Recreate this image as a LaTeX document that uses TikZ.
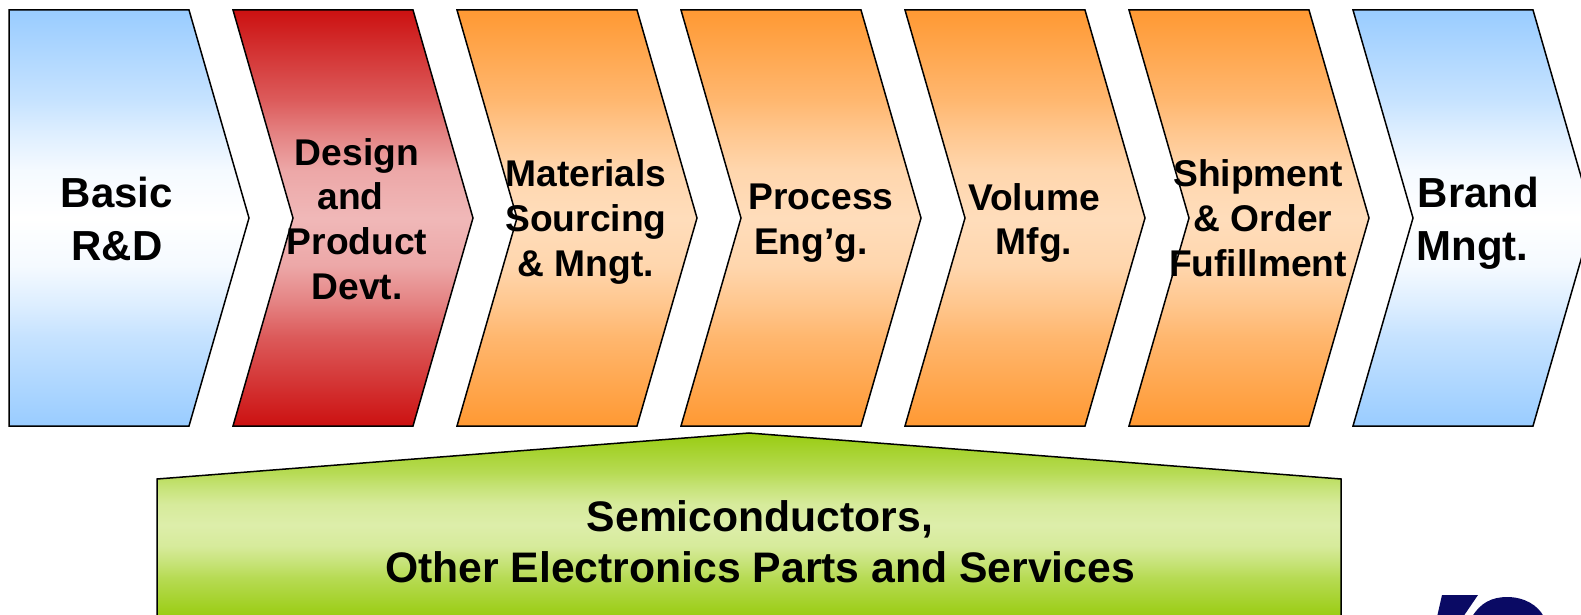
\documentclass[tikz,border=0pt]{standalone}
\usepackage{fontspec}
\setmainfont{Liberation Sans}
\definecolor{bluec}{HTML}{99CCFF}
\definecolor{bluem}{HTML}{FFFFFF}
\definecolor{redc}{HTML}{CC1111}
\definecolor{redm}{HTML}{F0B8B8}
\definecolor{orangec}{HTML}{FF9933}
\definecolor{orangem}{HTML}{FFDDBB}
\definecolor{greenc}{HTML}{99CC11}
\definecolor{greenm}{HTML}{DDEEAA}
\definecolor{logoc}{HTML}{0A0A64}
\newcommand\declband[3]{\pgfdeclareverticalshading{#1}{100bp}{%
  color(0bp)=(#2); color(25bp)=(#2);
  color(35.75bp)=(#3!44!#2); color(39.5bp)=(#3!66!#2); color(44.25bp)=(#3!90!#2);
  color(50bp)=(#3);
  color(55.75bp)=(#3!90!#2); color(60.5bp)=(#3!66!#2); color(64.25bp)=(#3!44!#2);
  color(75bp)=(#2); color(100bp)=(#2)}}
\declband{blueband}{bluec}{bluem}
\declband{redband}{redc}{redm}
\declband{orangeband}{orangec}{orangem}
\declband{greenband}{greenc}{greenm}
\tikzset{
  x=0.5pt, y=-0.5pt,
  stage/.style={draw=black, line width=0.75pt, line join=miter},
  bluefill/.style={shade, shading=blueband},
  redfill/.style={shade, shading=redband},
  orangefill/.style={shade, shading=orangeband},
  greenfill/.style={shade, shading=greenband},
  lab/.style={align=center, inner sep=0pt, font=\bfseries\fontsize{18.6}{22.4}\selectfont},
  labbig/.style={align=center, inner sep=0pt, font=\bfseries\fontsize{21}{26.7}\selectfont},
  labgreen/.style={align=center, inner sep=0pt, font=\bfseries\fontsize{21.35}{25.6}\selectfont},
}
\begin{document}
\begin{tikzpicture}
\useasboundingbox (0,0) rectangle (1581,615);
\clip (0,0) rectangle (1581,615);
% basic R&D
\path[stage,bluefill] (9,10) -- (189,10) -- (249,218) -- (189,426) -- (9,426) -- cycle;
% chevrons
\path[stage,redfill] (233,10) -- (413,10) -- (473,218) -- (413,426) -- (233,426) -- (293,218) -- cycle;
\foreach \xa in {457,681,905,1129}{
  \path[stage,orangefill] (\xa,10) -- ({\xa+180},10) -- ({\xa+240},218) -- ({\xa+180},426) -- (\xa,426) -- ({\xa+60},218) -- cycle;
}
\path[stage,bluefill] (1353,10) -- (1533,10) -- (1593,218) -- (1533,426) -- (1353,426) -- (1413,218) -- cycle;
% base
\path[stage,greenfill] (749,433) -- (1341,479) -- (1341,617) -- (157,617) -- (157,479) -- cycle;
% logo fragment
\fill[logoc] (1442,595) -- (1478,595) -- (1463,617) -- (1437,617) -- cycle;
\fill[logoc] (1472,617) .. controls (1480,603) and (1492,597) .. (1507,597) .. controls (1524,597) and (1538,605) .. (1544,617) -- cycle;
% labels
\node[labbig] (basic) at (117,219) {Basic\\R\&D};
\node[lab] (design) at (357,219) {Design\\and\kern6.5pt\\Product\\Devt.};
\node[lab] (materials) at (586,222) {Materials\\Sourcing\\\& Mngt.};
\node[lab] (process) at (821,223) {Process\\Eng’g.\hspace*{10pt}};
\node[lab] (volume) at (1034,223) {Volume\\Mfg.};
\node[lab] (shipment) at (1258,218) {Shipment\\\hspace*{5pt}\& Order\\Fufillment};
\node[labbig] (brand) at (1478.5,223) {Brand\\Mngt.\hspace*{6pt}};
\node[labgreen] (semi) at (760,541.5) {Semiconductors,\\Other Electronics Parts and Services};
\end{tikzpicture}
\end{document}
